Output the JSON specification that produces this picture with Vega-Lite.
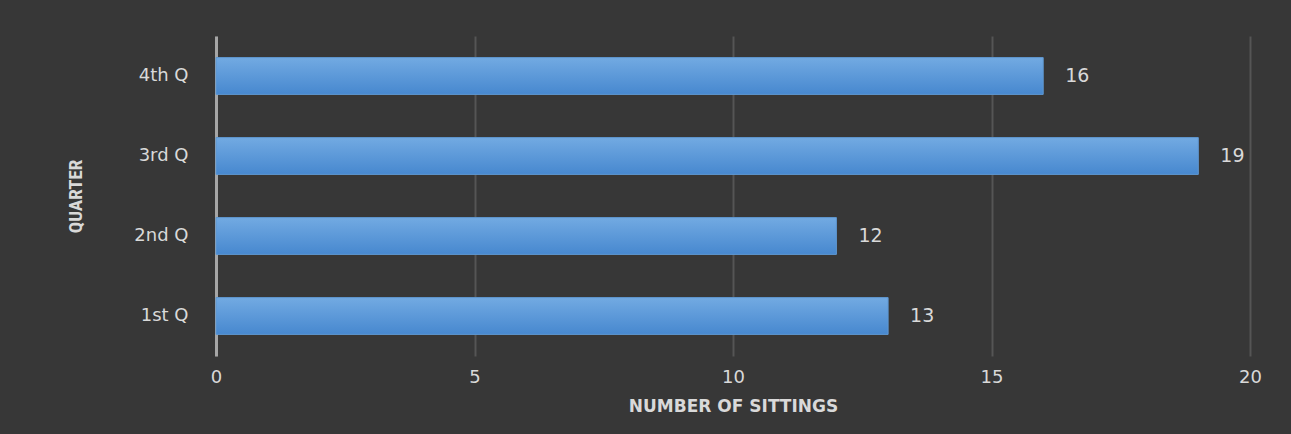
{
  "$schema": "https://vega.github.io/schema/vega-lite/v6.json",
  "width": 1034,
  "height": 320,
  "autosize": {"type": "none"},
  "padding": {"left": 216, "top": 36, "right": 41, "bottom": 78},
  "background": "#373737",
  "data": {"values": [
    {"quarter": "4th Q", "sittings": 16},
    {"quarter": "3rd Q", "sittings": 19},
    {"quarter": "2nd Q", "sittings": 12},
    {"quarter": "1st Q", "sittings": 13}
  ]},
  "config": {
    "view": {"stroke": null},
    "font": "DejaVu Sans"
  },
  "encoding": {
    "y": {
      "field": "quarter", "type": "nominal", "sort": ["4th Q", "3rd Q", "2nd Q", "1st Q"],
      "scale": {"paddingInner": 0.54, "paddingOuter": 0.27},
      "axis": {
        "title": "QUARTER",
        "titleFont": "Liberation Sans Narrow, Roboto Condensed, Arial Narrow, sans-serif",
        "titleFontSize": 19, "titleFontWeight": "bold", "titleColor": "#d9d9d9",
        "titleAngle": -90, "titleX": -141, "titleY": 160, "titleAlign": "center", "titleBaseline": "middle",
        "labelFont": "DejaVu Sans", "labelFontSize": 18, "labelColor": "#d9d9d9", "labelPadding": 28,
        "ticks": false, "domain": true, "domainColor": "#a6a6a6", "domainWidth": 3, "grid": false
      }
    },
    "x": {
      "field": "sittings", "type": "quantitative",
      "scale": {"domain": [0, 20], "nice": false},
      "axis": {
        "title": "NUMBER OF SITTINGS",
        "titleFont": "DejaVu Sans", "titleFontSize": 17, "titleFontWeight": "bold", "titleColor": "#d9d9d9",
        "titlePadding": 12,
        "values": [0, 5, 10, 15, 20],
        "labelFlush": false,
        "labelFont": "DejaVu Sans", "labelFontSize": 18, "labelColor": "#d9d9d9", "labelPadding": 12,
        "ticks": false, "domain": false,
        "grid": true, "gridColor": "#555555", "gridWidth": 2
      }
    }
  },
  "layer": [
    {
      "mark": {
        "type": "bar",
        "color": {
          "gradient": "linear", "x1": 0, "y1": 0, "x2": 0, "y2": 1,
          "stops": [
            {"offset": 0, "color": "#72aae2"},
            {"offset": 1, "color": "#4788cf"}
          ]
        },
        "stroke": "#5f98d2",
        "strokeWidth": 1
      }
    },
    {
      "mark": {"type": "text", "align": "left", "baseline": "middle", "dx": 22, "fontSize": 19, "font": "DejaVu Sans", "color": "#d9d9d9"},
      "encoding": {"text": {"field": "sittings", "type": "quantitative"}}
    }
  ]
}
